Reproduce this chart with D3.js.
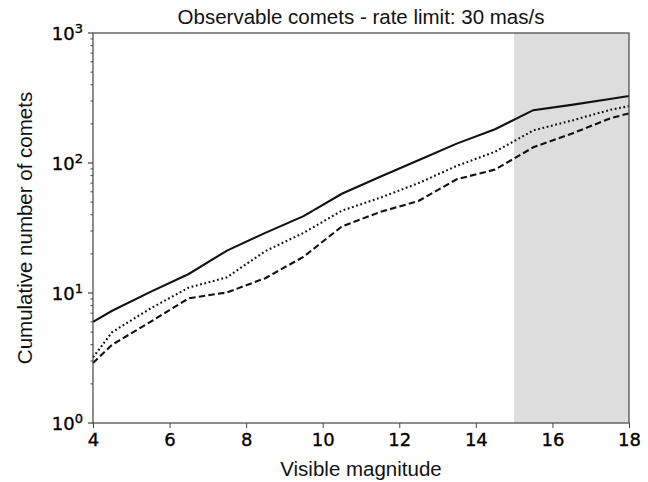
<!DOCTYPE html>
<html>
<head>
<meta charset="utf-8">
<script src="https://d3js.org/d3.v7.min.js"></script>
<style>
body { margin: 0; padding: 0; background: #fff; }
svg { display: block; }
.tick-label { font-family: "DejaVu Sans", sans-serif; font-size: 18px; fill: #000; stroke: #000; stroke-width: 0.35px; }
.label { font-family: "Liberation Sans", Arial, sans-serif; font-size: 20.5px; fill: #111; }
</style>
</head>
<body>
<svg id="chart" width="648" height="482"></svg>
<script>
// magnitudes at which the cumulative counts are sampled
const magnitudes = [4, 4.5, 5.5, 6.5, 7.5, 8.5, 9.5, 10.5, 11.5, 12.5, 13.5, 14.5, 15.5, 16.5, 17.5, 18];
const solidCounts  = [6.0, 7.3, 10.2, 14, 21.2, 29, 39, 58, 78.5, 105, 141, 182, 255, 280, 311, 328];
const dottedCounts = [3.2, 5.0, 7.6, 11, 13.2, 21, 29, 43, 54, 70, 95, 122, 178, 212, 256, 274];
const dashedCounts = [2.9, 4.0, 6.0, 9.1, 10.1, 13, 19, 32.5, 42, 51, 75, 89, 132, 168, 220, 241];
const xTicks = [4, 6, 8, 10, 12, 14, 16, 18];
const yExponents = [0, 1, 2, 3];
const shadedRange = [15, 18];

const margin = {top: 33, right: 19, bottom: 59, left: 93};
const W = 648, H = 482;
const w = W - margin.left - margin.right;
const h = H - margin.top - margin.bottom;

const svg = d3.select("#chart");
const g = svg.append("g").attr("transform", `translate(${margin.left},${margin.top})`);

const x = d3.scaleLinear().domain([4, 18]).range([0, w]);
const y = d3.scaleLog().domain([1, 1000]).range([h, 0]);

// shaded band
g.append("rect")
    .attr("x", x(shadedRange[0]))
    .attr("y", 0)
    .attr("width", x(shadedRange[1]) - x(shadedRange[0]))
    .attr("height", h)
    .attr("fill", "#dddddd");

const line = d3.line().x((d, i) => x(magnitudes[i])).y(d => y(d));

const series = [
    {vals: solidCounts, dash: null},
    {vals: dottedCounts, dash: "1.8,2.6"},
    {vals: dashedCounts, dash: "6.5,3.2"}
];
series.forEach(s => {
    g.append("path")
        .datum(s.vals)
        .attr("d", line)
        .attr("fill", "none")
        .attr("stroke", "#111")
        .attr("stroke-width", 2.1)
        .attr("stroke-dasharray", s.dash);
});

// frame
g.append("rect")
    .attr("x", 0).attr("y", 0).attr("width", w).attr("height", h)
    .attr("fill", "none").attr("stroke", "#444").attr("stroke-width", 1.2);

// x axis
const xAxis = g.append("g").attr("transform", `translate(0,${h})`)
    .call(d3.axisBottom(x).tickValues(xTicks).tickSize(5).tickPadding(5).tickFormat(d3.format("d")));
xAxis.select(".domain").remove();
xAxis.selectAll("line").attr("stroke", "#444");
xAxis.selectAll("text").attr("class", "tick-label").attr("font-size", null).attr("font-family", null).attr("fill", null);

// y axis: minor ticks
const minor = [];
for (let e = 0; e < 3; e++) for (let k = 2; k <= 9; k++) minor.push(k * Math.pow(10, e));
g.append("g").selectAll("line").data(minor).join("line")
    .attr("x1", -2.5).attr("x2", 0)
    .attr("y1", d => y(d)).attr("y2", d => y(d))
    .attr("stroke", "#444").attr("stroke-width", 1);

// y axis major ticks and labels
const yMajor = g.append("g").selectAll("g").data(yExponents).join("g")
    .attr("transform", d => `translate(0,${y(Math.pow(10, d))})`);
yMajor.append("line").attr("x1", -5).attr("x2", 0).attr("stroke", "#444").attr("stroke-width", 1.2);
const yt = yMajor.append("text").attr("class", "tick-label")
    .attr("text-anchor", "end").attr("x", -10).attr("y", 7);
yt.append("tspan").text("10");
yt.append("tspan").attr("dy", -7.5).attr("font-size", "13px").text(d => d);

// title and axis labels
svg.append("text").attr("class", "label")
    .attr("x", margin.left + w / 2).attr("y", 24).attr("text-anchor", "middle")
    .text("Observable comets - rate limit: 30 mas/s");
svg.append("text").attr("class", "label")
    .attr("x", margin.left + w / 2).attr("y", 476).attr("text-anchor", "middle")
    .text("Visible magnitude");
svg.append("text").attr("class", "label")
    .attr("transform", `translate(32,${margin.top + h / 2}) rotate(-90)`)
    .attr("text-anchor", "middle")
    .text("Cumulative number of comets");
</script>
</body>
</html>
